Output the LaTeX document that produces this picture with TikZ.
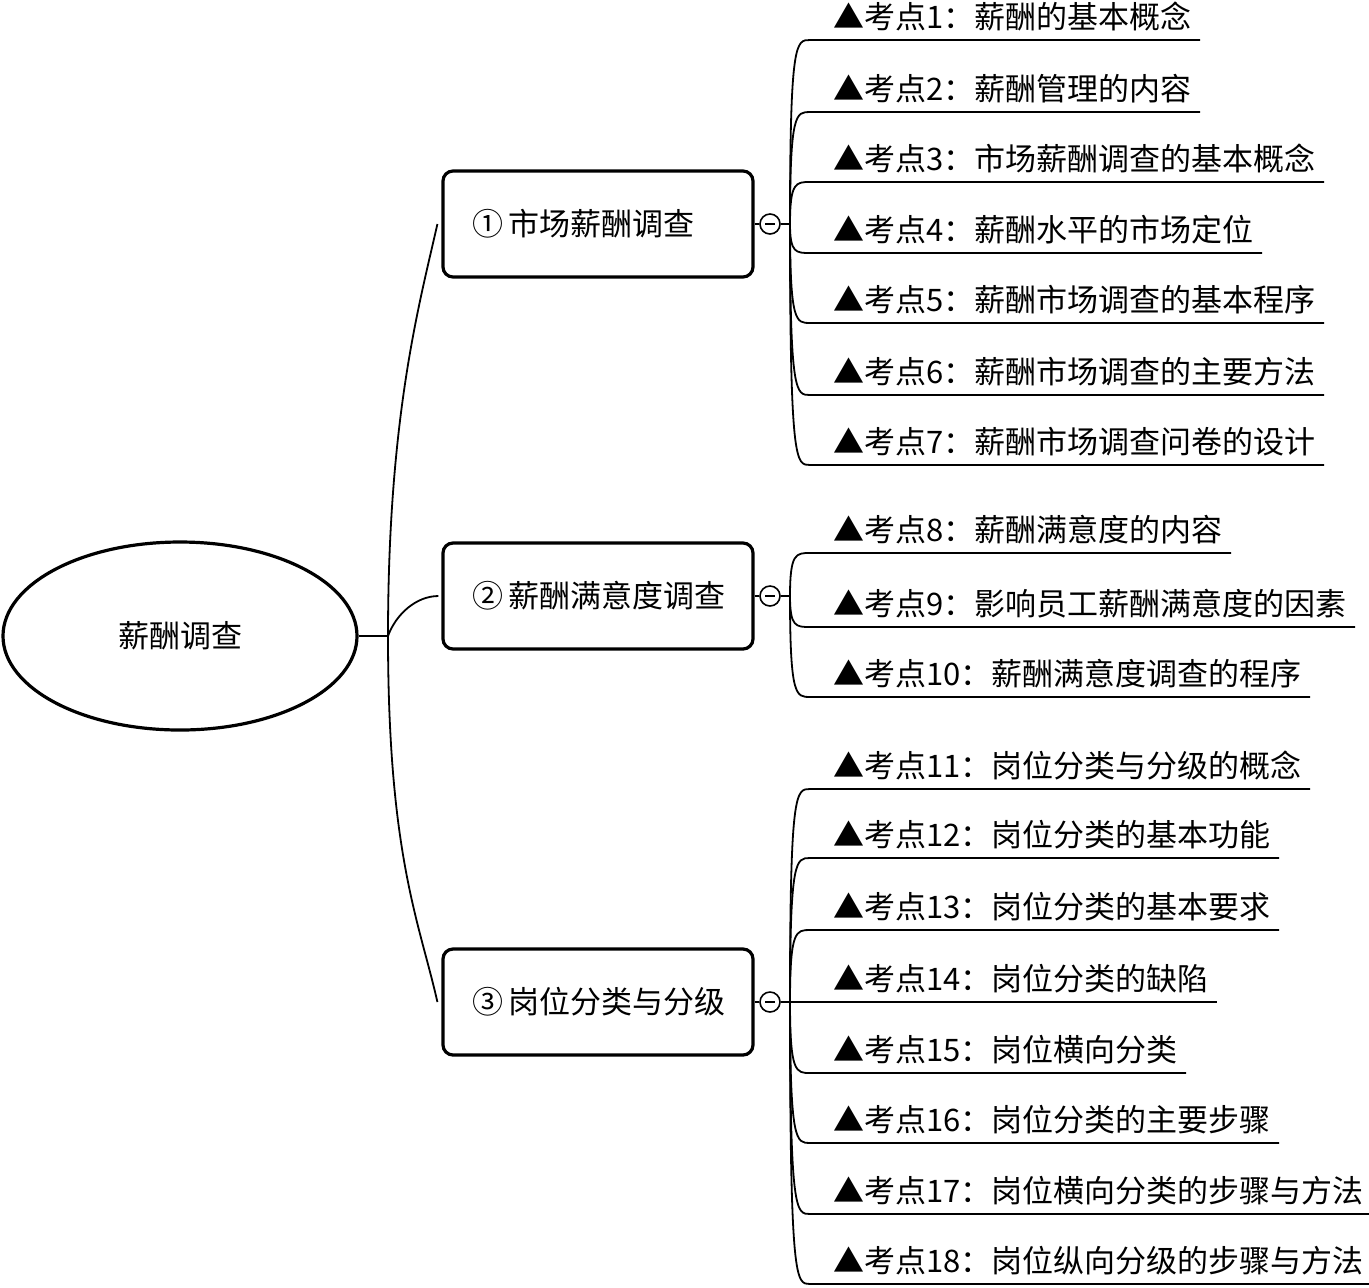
\documentclass[tikz,border=0pt]{standalone}
\usepackage{fontspec}
\setmainfont{Noto Sans CJK SC}
\usetikzlibrary{calc, shapes.geometric}

\begin{document}
\begin{tikzpicture}[x=0.5pt, y=-0.5pt,
  every node/.style={font=\fontsize{15.5pt}{18pt}\selectfont},
  link/.style={line width=0.9pt},
  topic/.style={draw, line width=1.6pt, rounded corners=5pt, minimum width=155pt, minimum height=53pt, text width=126pt, inner xsep=14.5pt, align=left},
  toggle/.style={draw, circle, line width=0.8pt, minimum size=10pt, inner sep=0pt,
    path picture={\draw[line width=0.8pt] ($(path picture bounding box.west)+(2.5pt,0)$) -- ($(path picture bounding box.east)+(-2.5pt,0)$);}},
  point/.style={anchor=south west, inner sep=0pt, text depth=5.6pt}
]
\useasboundingbox (0,0) rectangle (1369,1287);

% root
\node[draw, ellipse, line width=1.6pt, minimum width=177pt, minimum height=94pt] (root) at (180,636) {薪酬调查};
\coordinate (r0) at (388,636);

% topics
\node[topic] (t1) at (598,224) {\mbox{①\hspace{3pt}市场薪酬调查}};
\node[topic] (t2) at (598,596) {\mbox{②\hspace{3pt}薪酬满意度调查}};
\node[topic] (t3) at (598,1002) {\mbox{③\hspace{3pt}岗位分类与分级}};

\draw[link] (root.east) -- (r0);
\draw[link] (r0) .. controls ($(r0)+(0,-220)$) and ($(t1.west)+(-22,80)$) .. ($(t1.west)+(-4,0)$);
\draw[link] (r0) .. controls ($(r0)+(8,-22)$) and ($(t2.west)+(-25,0)$) .. ($(t2.west)+(-3,0)$);
\draw[link] (r0) .. controls ($(r0)+(0,220)$) and ($(t3.west)+(-22,-80)$) .. ($(t3.west)+(-4,0)$);

% toggles
\node[toggle] (c1) at (770,224) {};
\node[toggle] (c2) at (770,596) {};
\node[toggle] (c3) at (770,1002) {};
\coordinate (j1) at (790,224);
\coordinate (j2) at (790,596);
\coordinate (j3) at (790,1002);
\draw[link] (t1.east) -- (c1.west) (c1.east) -- (j1);
\draw[link] (t2.east) -- (c2.west) (c2.east) -- (j2);
\draw[link] (t3.east) -- (c3.west) (c3.east) -- (j3);

% points of group 1
\foreach \n/\yl/\t in {1/40/薪酬的基本概念, 2/112/薪酬管理的内容, 3/182/市场薪酬调查的基本概念,
  4/253/薪酬水平的市场定位, 5/323/薪酬市场调查的基本程序, 6/395/薪酬市场调查的主要方法,
  7/465/薪酬市场调查问卷的设计}{
  \node[point] (k\n) at (810,\yl) {\hspace*{11.5pt}▲考点\n：\t\hspace*{4pt}};
  \draw[link] (j1) .. controls (j1 |- k\n.south) and ($(j1 |- k\n.south)+(6,0)$) .. (k\n.south west) -- (k\n.south east);
}

% points of group 2
\foreach \n/\yl/\t in {8/553/薪酬满意度的内容, 9/627/影响员工薪酬满意度的因素, 10/697/薪酬满意度调查的程序}{
  \node[point] (k\n) at (810,\yl) {\hspace*{11.5pt}▲考点\n：\t\hspace*{4pt}};
  \draw[link] (j2) .. controls (j2 |- k\n.south) and ($(j2 |- k\n.south)+(6,0)$) .. (k\n.south west) -- (k\n.south east);
}

% points of group 3
\foreach \n/\yl/\t in {11/789/岗位分类与分级的概念, 12/858/岗位分类的基本功能, 13/930/岗位分类的基本要求,
  14/1002/岗位分类的缺陷, 15/1073/岗位横向分类, 16/1143/岗位分类的主要步骤,
  17/1214/岗位横向分类的步骤与方法, 18/1284/岗位纵向分级的步骤与方法}{
  \node[point] (k\n) at (810,\yl) {\hspace*{11.5pt}▲考点\n：\t\hspace*{4pt}};
  \draw[link] (j3) .. controls (j3 |- k\n.south) and ($(j3 |- k\n.south)+(6,0)$) .. (k\n.south west) -- (k\n.south east);
}
\end{tikzpicture}
\end{document}
